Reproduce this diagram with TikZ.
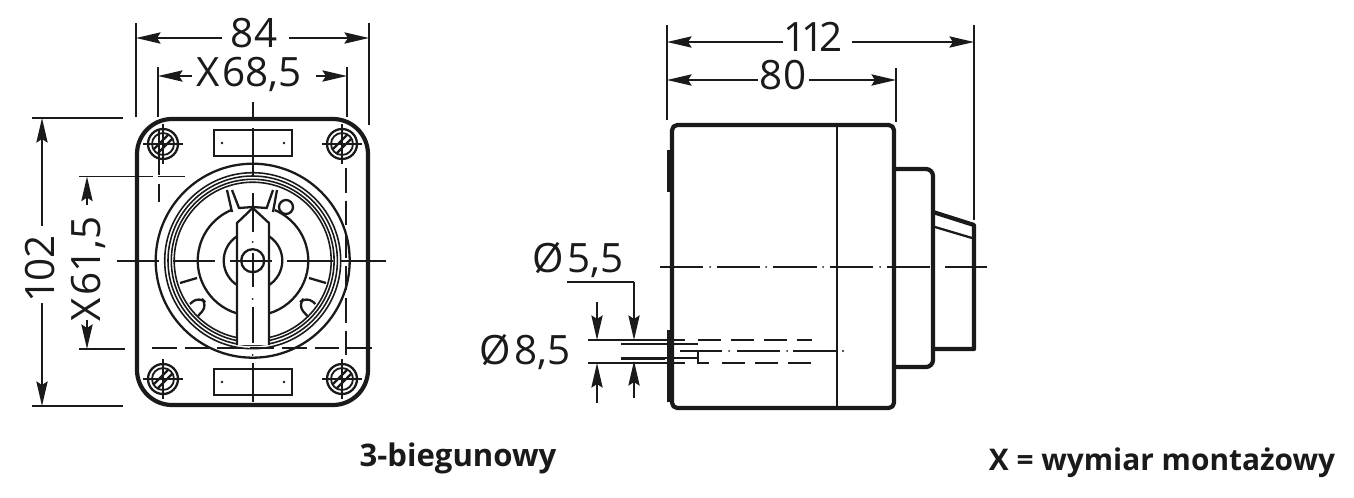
\documentclass[tikz,border=0pt]{standalone}
\usepackage{fontspec}
\setmainfont{Open Sans}
\usetikzlibrary{arrows.meta}
\definecolor{ink}{HTML}{1A1A1A}
\tikzset{
  thickl/.style={draw=ink,line width=2.4pt,line join=round},
  thinl/.style={draw=ink,line width=1.05pt},
  midl/.style={draw=ink,line width=1.3pt},
  ringl/.style={draw=ink,line width=0.9pt},
  dim/.style={draw=ink,line width=1.05pt,-{Stealth[length=14pt,width=6.4pt,inset=2pt]}},
  dimtext/.style={inner sep=0pt,text=ink,text height=17pt,text depth=3pt,font=\fontsize{23}{23}\selectfont},
  boldtext/.style={inner sep=0pt,text=ink,font=\fontsize{#1}{18}\selectfont\bfseries},
  dashl/.style={draw=ink,line width=1.05pt,dash pattern=on 14pt off 4.5pt},
  holedash/.style={draw=ink,line width=1.2pt,dash pattern=on 13pt off 5.7pt},
}
\newcommand{\screw}[2]{%
  \begin{scope}[shift={(#1,#2)}]
    \draw[midl] (0,0) circle (15);
    \draw[thinl] (0,0) circle (11);
    \draw[thinl] (-20,0)--(20,0) (0,-20)--(0,20);
    \draw[midl] (-9,5)--(5,-9) (-5,9)--(9,-5);
  \end{scope}}
\begin{document}
\begin{tikzpicture}[x=0.02cm,y=-0.02cm]
\useasboundingbox (0,0) rectangle (1354,497);
% ---- front view
\draw[thickl,rounded corners=20] (137,119) rectangle (368,405);
\draw[midl] (214,130) rectangle (292,156) (214,369) rectangle (292,395);
\foreach \a/\b in {222/143,284/143,222/382,284/382} \fill[ink] (\a,\b) circle (1.4);
\screw{163}{144}\screw{342}{144}\screw{163}{379}\screw{342}{379}
\coordinate (fc) at (252.7,260.7);
\draw[midl] (fc) circle (97);
\draw[ringl] (fc) circle (88) (fc) circle (84.7) (fc) circle (81.4) (fc) circle (78.5);
% inner arc & hub
\draw[midl] (237,313.4) arc[start angle=106.6,end angle=247,radius=55]
            (269,313.4) arc[start angle=73.4,end angle=-67,radius=55];
\draw[midl] (237,236.3) arc[start angle=237.2,end angle=122.8,radius=29];
\draw[midl] (269,236.3) arc[start angle=-57.2,end angle=57.2,radius=29];
% notch
\draw[midl] (227,190)--(232,212) (232,190)--(239,208)--(252.7,207)--(266.7,208)--(273,190) (277,190)--(273,212);
\draw[midl] (286,207) circle (7);
% bottom ticks and pills
\draw[midl] (180,283)--(197,278) (309,278)--(326,283);
\draw[midl,rounded corners=5] (190,304)--(199,296)--(208,305)--(198,316);
\draw[midl,rounded corners=5] (315.4,304)--(306.4,296)--(297.4,305)--(307.4,316);
% handle
\draw[midl,fill=white] (237,345)--(237,223)--(252.7,208)--(269,223)--(269,345);
\draw[midl] (fc) circle (11.5);
% centre lines
\draw[thinl] (117,260.7)--(159,260.7) (173,260.7)--(215,260.7) (230,260.7)--(272,260.7) (287,260.7)--(333,260.7) (340,260.7)--(386,260.7);
\draw[thinl] (252.7,102)--(252.7,118) (252.7,128)--(252.7,177) (252.7,193)--(252.7,232) (252.7,253)--(252.7,287) (252.7,307)--(252.7,343) (252.7,363)--(252.7,402);
\fill[ink] (252.7,242) circle (1) (252.7,299) circle (1) (252.7,355) circle (1);
% hidden mounting lines
\draw[thinl] (159,130)--(159,175) (159,184)--(159,202);
\draw[dashl] (345.7,168)--(345.7,357);
\draw[dashl] (152,348)--(372,348);
\draw[thinl] (79,176.5)--(153,176.5) (158,176.5)--(185,176.5);
% ---- dims on front view
\draw[thinl] (136,23)--(136,117) (369,23)--(369,125);
\draw[dim] (222,38)--(136,38);
\draw[dim] (289,38)--(369,38);
\node[dimtext] (d84) at (254,35) {84};
\draw[thinl] (158,67)--(158,117) (347,67)--(347,117);
\draw[dim] (192,76)--(158,76);
\draw[dim] (316,76)--(347,76);
\node[dimtext] (d685) at (249,74) {X\kern1.5pt 68,5};
\draw[thinl] (32,118)--(123,118) (32,406)--(123,406);
\draw[dim] (42,226)--(42,118);
\draw[dim] (42,303)--(42,406);
\node[dimtext,rotate=90] (d102) at (42,269) {1\kern-1pt 02};
\draw[thinl] (79,349)--(125,349);
\draw[dim] (87,205)--(87,176.5);
\draw[dim] (87,320)--(87,349);
\node[dimtext,rotate=90] (d615) at (88,269) {X\kern1.5pt 61,5};
% ---- side view
\draw[thickl,rounded corners=3] (672,125) rectangle (894,408);
\draw[thickl] (669,150)--(669,192) (669,330)--(669,402);
\draw[midl] (836.7,125)--(836.7,408);
\draw[thickl,rounded corners=4] (894,169)--(933,169)--(933,367)--(894,367);
\draw[thickl] (933,212)--(974,225)--(974,349)--(933,349);
\draw[midl] (935,227)--(972,238);
% centre line
\draw[midl] (660,267)--(703,267) (717,267)--(760,267) (773,267)--(817,267) (830,267)--(873,267) (887,267)--(930,267) (945,267)--(987,267);
\fill[ink] (710,267) circle (1) (766,267) circle (1) (823,267) circle (1) (880,267) circle (1);
% dims side
\draw[thinl] (667,25)--(667,120) (974,25)--(974,220) (896,68)--(896,122);
\draw[dim] (783,42)--(667,42);
\draw[dim] (852,42)--(974,42);
\node[dimtext] (d112) at (813,39) {1\kern-3pt 1\kern-3pt 2};
\draw[dim] (758,80)--(667,80);
\draw[dim] (809,80)--(896,80);
\node[dimtext] (d80) at (783,77) {80};
% hole
\draw[midl] (588,340)--(685,340) (588,362.7)--(685,362.7);
\draw[holedash] (698,340)--(812,340);
\draw[holedash] (722,362.7)--(812,362.7);
\draw[thickl,line width=1.7pt] (621,344)--(665,344) (621,358)--(665,358);
\draw[midl] (665,344)--(698,344) (665,358)--(698,358);
\draw[midl] (698,351)--(698,362.7)--(709,362.7);
\draw[midl] (680,351)--(722,351) (737,351)--(780,351) (793,351)--(836,351);
\fill[ink] (729,351) circle (1) (787,351) circle (1) (843,351) circle (1.2);
\draw[dim] (597,302)--(597,340);
\draw[dim] (597,403)--(597,363);
\draw[midl] (567,282)--(634,282);
\draw[dim] (634,282)--(634,340);
\draw[dim] (634,398)--(634,361);
\node[dimtext] (d55) at (578,260) {Ø\kern1.5pt 5,5};
\node[dimtext] (d85) at (525,352) {Ø\kern1.5pt 8,5};
% captions
\node[boldtext=17.7] (cap1) at (458,458) {3-biegunowy};
\node[boldtext=17] (cap2) at (1162,463) {X = wymiar montażowy};
\end{tikzpicture}
\end{document}
